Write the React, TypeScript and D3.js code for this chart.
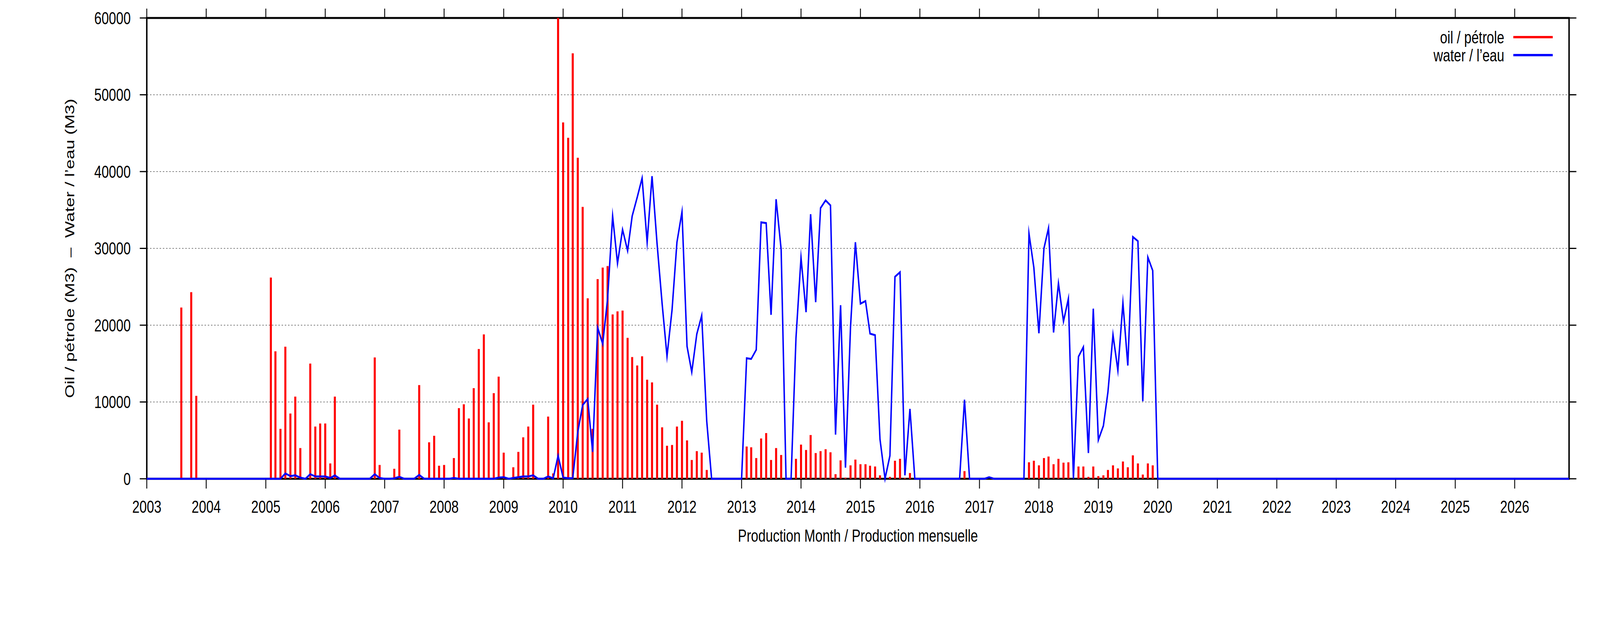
import React, { useEffect } from "react";
import * as d3 from "d3";

// ---- data (monthly, Jan..Dec per row) ----
const years: number[] = [
  2003, 2004, 2005, 2006, 2007, 2008, 2009, 2010, 2011, 2012, 2013, 2014,
  2015, 2016, 2017, 2018, 2019, 2020, 2021, 2022, 2023, 2024, 2025, 2026,
];

const oilByYear: number[][] = [
  [0, 0, 0, 0, 0, 0, 0, 22300, 0, 24300, 10800, 0], // 2003
  [0, 0, 0, 0, 0, 0, 0, 0, 0, 0, 0, 0], // 2004
  [0, 26200, 16600, 6500, 17200, 8500, 10700, 4000, 0, 15000, 6800, 7200], // 2005
  [7200, 2000, 10700, 0, 0, 0, 0, 0, 0, 0, 15800, 1800], // 2006
  [0, 0, 1300, 6400, 0, 0, 0, 12200, 0, 4750, 5600, 1700], // 2007
  [1800, 0, 2700, 9200, 9700, 7850, 11800, 16900, 18800, 7350, 11150, 13300], // 2008
  [3400, 0, 1500, 3500, 5400, 6800, 9650, 0, 0, 8100, 700, 60000], // 2009
  [46400, 44400, 55400, 41800, 35400, 23500, 6500, 26000, 27500, 27700, 21400, 21800], // 2010
  [21900, 18350, 15850, 14750, 15950, 12900, 12550, 9650, 6700, 4300, 4400, 6800], // 2011
  [7550, 5000, 2450, 3600, 3400, 1150, 0, 0, 0, 0, 0, 0], // 2012
  [0, 4200, 4100, 2700, 5250, 5950, 2450, 4000, 3100, 0, 0, 2600], // 2013
  [4450, 3750, 5700, 3350, 3600, 3850, 3450, 600, 2400, 150, 1750, 2500], // 2014
  [1900, 1900, 1700, 1600, 450, 0, 250, 2350, 2600, 100, 750, 0], // 2015
  [0, 0, 0, 0, 0, 0, 0, 0, 0, 1000, 0, 0], // 2016
  [0, 0, 0, 0, 0, 0, 0, 0, 0, 0, 2150, 2350], // 2017
  [1750, 2700, 2900, 1900, 2600, 2100, 2150, 0, 1600, 1600, 250, 1600], // 2018
  [350, 450, 1150, 1750, 1350, 2250, 1500, 3050, 2000, 550, 2000, 1750], // 2019
  [0, 0, 0, 0, 0, 0, 0, 0, 0, 0, 0, 0], // 2020
  [0, 0, 0, 0, 0, 0, 0, 0, 0, 0, 0, 0], // 2021
  [0, 0, 0, 0, 0, 0, 0, 0, 0, 0, 0, 0], // 2022
  [0, 0, 0, 0, 0, 0, 0, 0, 0, 0, 0, 0], // 2023
  [0, 0, 0, 0, 0, 0, 0, 0, 0, 0, 0, 0], // 2024
  [0, 0, 0, 0, 0, 0, 0, 0, 0, 0, 0, 0], // 2025
  [0, 0, 0, 0, 0, 0, 0, 0, 0, 0, 0, 0], // 2026
];

const waterByYear: number[][] = [
  [0, 0, 0, 0, 0, 0, 0, 0, 0, 0, 0, 0], // 2003
  [0, 0, 0, 0, 0, 0, 0, 0, 0, 0, 0, 0], // 2004
  [0, 0, 0, 0, 700, 350, 450, 150, 0, 600, 300, 300], // 2005
  [300, 100, 450, 0, 0, 0, 0, 0, 0, 0, 600, 100], // 2006
  [0, 0, 50, 250, 0, 0, 0, 500, 0, 0, 0, 0], // 2007
  [0, 0, 100, 0, 0, 0, 0, 0, 0, 0, 0, 150], // 2008
  [200, 0, 100, 200, 300, 300, 450, 0, 0, 300, 50, 3000], // 2009
  [150, 80, 80, 6100, 9600, 10400, 3500, 19700, 17550, 23400, 34200, 28050], // 2010
  [32450, 29700, 34200, 36650, 39150, 30800, 39400, 30600, 22800, 15950, 22000, 30800], // 2011
  [34750, 17250, 13900, 18850, 21250, 7500, 0, 0, 0, 0, 0, 0], // 2012
  [0, 15700, 15600, 16800, 33400, 33300, 21350, 36400, 29850, 0, 0, 18300], // 2013
  [28800, 21700, 34450, 23000, 35250, 36250, 35600, 5750, 22600, 1450, 19750, 30800], // 2014
  [22800, 23150, 18900, 18700, 5150, 0, 3000, 26300, 26900, 450, 9100, 0], // 2015
  [0, 0, 0, 0, 0, 0, 0, 0, 0, 10300, 0, 0], // 2016
  [0, 0, 200, 0, 0, 0, 0, 0, 0, 0, 31950, 27500], // 2017
  [18950, 30000, 32650, 19050, 25450, 20500, 23450, 0, 15900, 17150, 3350, 22150], // 2018
  [5050, 6900, 11300, 18750, 14100, 22900, 14750, 31500, 30950, 10100, 28850, 27100], // 2019
  [0, 0, 0, 0, 0, 0, 0, 0, 0, 0, 0, 0], // 2020
  [0, 0, 0, 0, 0, 0, 0, 0, 0, 0, 0, 0], // 2021
  [0, 0, 0, 0, 0, 0, 0, 0, 0, 0, 0, 0], // 2022
  [0, 0, 0, 0, 0, 0, 0, 0, 0, 0, 0, 0], // 2023
  [0, 0, 0, 0, 0, 0, 0, 0, 0, 0, 0, 0], // 2024
  [0, 0, 0, 0, 0, 0, 0, 0, 0, 0, 0, 0], // 2025
  [0, 0, 0, 0, 0, 0, 0, 0, 0, 0, 0, 0], // 2026
];

const yTicks: number[] = [0, 10000, 20000, 30000, 40000, 50000, 60000];
const xTickYears: number[] = years;

const legendLabels: string[] = ["oil / pétrole", "water / l’eau"];
const xTitle = "Production Month / Production mensuelle";
const yTitle = "Oil / pétrole (M3)  –  Water / l’eau (M3)";

// ---- layout (in the 5483 x 1594 drawing space) ----
const W = 5483;
const H = 1594;
const left = 503;
const right = 5377;
const top = 46;
const bottom = 1225;
const FONT = "'Liberation Sans', Arial, Helvetica, sans-serif";
const FS = 45;

type Pt = { date: Date; value: number };

export default function App() {
  useEffect(() => {
    document.body.style.margin = "0";
    document.body.style.overflow = "hidden";
    document.documentElement.style.overflow = "hidden";
  }, []);

  const oil: Pt[] = [];
  const water: Pt[] = [];
  years.forEach((yr, i) => {
    for (let m = 0; m < 12; m++) {
      const date = new Date(Date.UTC(yr, m, 1));
      oil.push({ date, value: oilByYear[i][m] });
      water.push({ date, value: waterByYear[i][m] });
    }
  });

  const x = d3
    .scaleUtc()
    .domain([new Date(Date.UTC(2003, 0, 1)), new Date(Date.UTC(2026, 11, 1))])
    .range([left, right]);
  const y = d3.scaleLinear().domain([0, 60000]).range([bottom, top]);

  const line = d3
    .line<Pt>()
    .x((d) => x(d.date))
    .y((d) => y(d.value));

  const barW = 7;

  return (
    <svg
      viewBox={`0 0 ${W} ${H}`}
      preserveAspectRatio="none"
      style={{
        position: "fixed",
        left: 0,
        top: 0,
        width: "100vw",
        height: "100vh",
        display: "block",
        background: "#fff",
      }}
      fontFamily={FONT}
    >
      <rect x={0} y={0} width={W} height={H} fill="#fff" />
      <defs>
        <clipPath id="plotclip">
          <rect x={left} y={top} width={right - left} height={bottom - top + 4} />
        </clipPath>
      </defs>

      {/* grid */}
      {yTicks
        .filter((t) => t > 0 && t < 60000)
        .map((t) => (
          <line
            key={"g" + t}
            x1={left}
            x2={right}
            y1={y(t)}
            y2={y(t)}
            stroke="#555"
            strokeWidth={1.6}
            strokeDasharray="5,6"
          />
        ))}

      {/* border */}
      <rect
        x={left}
        y={top}
        width={right - left}
        height={bottom - top}
        fill="none"
        stroke="#000"
        strokeWidth={5}
      />

      {/* y ticks left and right (outward) */}
      {yTicks.map((t) => (
        <g key={"yt" + t}>
          <line x1={left - 24} x2={left} y1={y(t)} y2={y(t)} stroke="#000" strokeWidth={3} />
          <line x1={right} x2={right + 25} y1={y(t)} y2={y(t)} stroke="#000" strokeWidth={3} />
          <text x={448} y={y(t) + 16} textAnchor="end" fontSize={FS} fill="#000">
            {t}
          </text>
        </g>
      ))}

      {/* x ticks bottom and top (outward) */}
      {xTickYears.map((yr) => {
        const px = x(new Date(Date.UTC(yr, 0, 1)));
        return (
          <g key={"xt" + yr}>
            <line x1={px} x2={px} y1={bottom} y2={bottom + 25} stroke="#000" strokeWidth={3} />
            <line x1={px} x2={px} y1={top - 24} y2={top} stroke="#000" strokeWidth={3} />
            <text x={px} y={1312} textAnchor="middle" fontSize={FS} fill="#000">
              {yr}
            </text>
          </g>
        );
      })}

      {/* oil bars */}
      <g clipPath="url(#plotclip)">
        {oil
          .filter((d) => d.value > 0)
          .map((d, i) => (
            <rect
              key={"o" + i}
              x={x(d.date) - barW / 2}
              y={y(d.value)}
              width={barW}
              height={y(0) - y(d.value)}
              fill="#ff0000"
            />
          ))}
      </g>

      {/* water line */}
      <path
        d={line(water) || ""}
        fill="none"
        stroke="#0000ff"
        strokeWidth={5}
        strokeLinejoin="miter"
        strokeMiterlimit={10}
      />

      {/* axis titles */}
      <text x={(left + right) / 2} y={1386} textAnchor="middle" fontSize={FS} fill="#000">
        {xTitle}
      </text>
      <text
        transform={`translate(255, ${(top + bottom) / 2}) rotate(-90)`}
        textAnchor="middle"
        fontSize={FS}
        fill="#000"
        style={{ whiteSpace: "pre" }}
      >
        {yTitle}
      </text>

      {/* legend */}
      {legendLabels.map((lab, i) => {
        const ly = 95 + i * 46;
        return (
          <g key={"lg" + i}>
            <text x={5155} y={ly + 16} textAnchor="end" fontSize={FS} fill="#000">
              {lab}
            </text>
            <line
              x1={5186}
              x2={5321}
              y1={ly}
              y2={ly}
              stroke={i === 0 ? "#ff0000" : "#0000ff"}
              strokeWidth={6}
            />
          </g>
        );
      })}
    </svg>
  );
}
